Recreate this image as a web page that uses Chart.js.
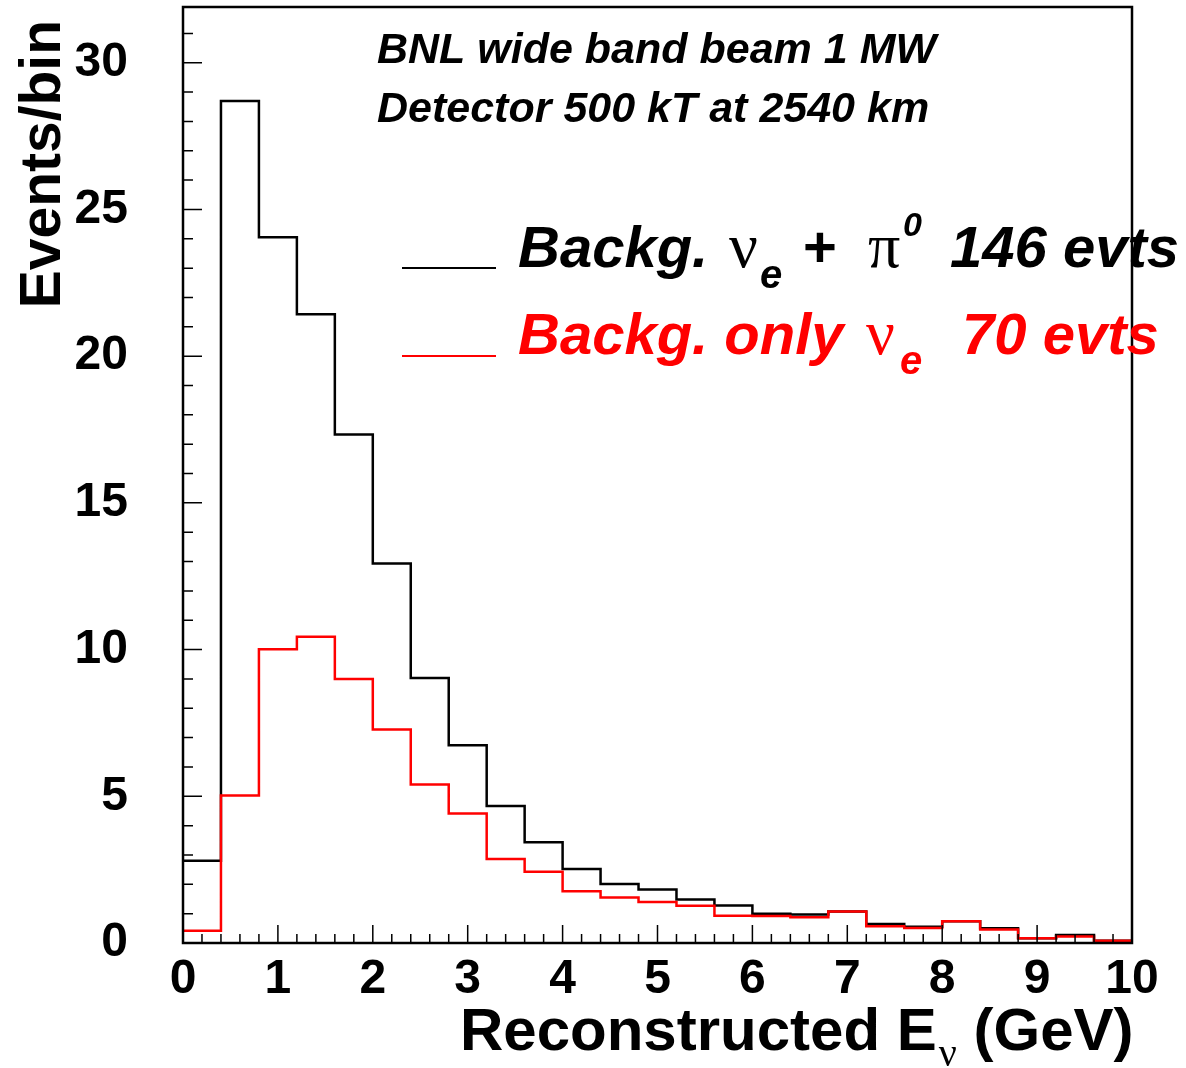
<!DOCTYPE html>
<html>
<head>
<meta charset="utf-8">
<script src="https://cdn.jsdelivr.net/npm/chart.js@4.4.1/dist/chart.umd.min.js"></script>
<style>
  html, body { margin: 0; padding: 0; background: #fff; }
  canvas { display: block; }
</style>
</head>
<body>
<canvas id="histChart" width="1186" height="1068"></canvas>
<script>
// bin edges of the reconstructed-energy histogram (GeV)
const binEdges = [0, 0.4, 0.8, 1.2, 1.6, 2.0, 2.4, 2.8, 3.2, 3.6, 4.0, 4.4, 4.8,
                  5.2, 5.6, 6.0, 6.4, 6.8, 7.2, 7.6, 8.0, 8.4, 8.8, 9.2, 9.6, 10.0];
// events per bin, nu_e + pi0 background (black)
const bkgNuePi0 = [2.80, 28.70, 24.05, 21.43, 17.33, 12.93, 9.03, 6.74, 4.67, 3.43, 2.52, 2.01, 1.82,
                   1.48, 1.28, 1.00, 0.97, 1.07, 0.65, 0.55, 0.74, 0.50, 0.16, 0.27, 0.08];
// events per bin, only nu_e background (red)
const bkgNueOnly = [0.42, 5.03, 10.01, 10.44, 9.00, 7.28, 5.40, 4.41, 2.86, 2.43, 1.76, 1.55, 1.40,
                    1.27, 0.93, 0.92, 0.88, 1.07, 0.57, 0.51, 0.74, 0.46, 0.16, 0.22, 0.08];
const xTickValues = [0, 1, 2, 3, 4, 5, 6, 7, 8, 9, 10];
const yTickValues = [0, 5, 10, 15, 20, 25, 30];

const SANS = '"Liberation Sans", Arial, Helvetica, sans-serif';
const SERIF = '"Liberation Serif", "Times New Roman", serif';

// histogram as step line: each edge carries the value of the bin to its right
function toSteps(vals) {
  return binEdges.map((e, i) => ({ x: e, y: vals[Math.min(i, vals.length - 1)] }));
}

function run(ctx, s, x, y, font, color) {
  ctx.font = font;
  ctx.fillStyle = color;
  ctx.fillText(s, x, y);
  return x + ctx.measureText(s).width;
}

// keep the plot frame where the reference has it
function noPad(s) {
  s.paddingTop = 0; s.paddingBottom = 0; s.paddingLeft = 0; s.paddingRight = 0;
}

// ROOT style frame, inner ticks, titles, text and legend
const rootDecor = {
  id: 'rootDecor',
  afterDatasetsDraw(chart) {
    const { ctx, chartArea: a, scales: { x, y } } = chart;
    ctx.save();
    ctx.strokeStyle = '#000';
    ctx.lineWidth = 1.5;
    ctx.beginPath();
    for (let v = 0; v <= 31; v++) {
      const py = y.getPixelForValue(v);
      ctx.moveTo(a.left, py);
      ctx.lineTo(a.left + (v % 5 === 0 ? 19 : 10), py);
    }
    for (let i = 0; i <= 50; i++) {
      const px = x.getPixelForValue(i * 0.2);
      ctx.moveTo(px, a.bottom);
      ctx.lineTo(px, a.bottom - (i % 5 === 0 ? 18 : 9));
    }
    ctx.stroke();
    ctx.lineWidth = 2.5;
    ctx.strokeRect(a.left, a.top, a.right - a.left, a.bottom - a.top);

    ctx.textBaseline = 'alphabetic';
    ctx.textAlign = 'left';

    // x title
    let cx = run(ctx, 'Reconstructed E', 460, 1050, 'bold 60px ' + SANS, '#000');
    cx = run(ctx, '\u03BD', cx + 2, 1066, '40px ' + SERIF, '#000');
    run(ctx, ' (GeV)', cx, 1050, 'bold 60px ' + SANS, '#000');

    // y title
    ctx.save();
    ctx.translate(60, 20);
    ctx.rotate(-Math.PI / 2);
    ctx.textAlign = 'right';
    run(ctx, 'Events/bin', 0, 0, 'bold 57px ' + SANS, '#000');
    ctx.restore();

    // beam / detector text
    run(ctx, 'BNL wide band beam 1 MW', 377, 63, 'italic bold 43px ' + SANS, '#000');
    run(ctx, 'Detector 500 kT at 2540 km', 377, 122, 'italic bold 43px ' + SANS, '#000');

    // legend
    ctx.lineWidth = 2;
    ctx.strokeStyle = '#000';
    ctx.beginPath(); ctx.moveTo(402, 268); ctx.lineTo(496, 268); ctx.stroke();
    ctx.strokeStyle = '#ff0000';
    ctx.beginPath(); ctx.moveTo(402, 356); ctx.lineTo(496, 356); ctx.stroke();

    const big = 'italic bold 58px ' + SANS;
    run(ctx, 'Backg.', 518, 267, big, '#000');
    run(ctx, '\u03BD', 729, 267, '64px ' + SERIF, '#000');
    run(ctx, 'e', 760, 288, 'italic bold 40px ' + SANS, '#000');
    run(ctx, '+', 803, 267, 'bold 58px ' + SANS, '#000');
    run(ctx, '\u03C0', 868, 267, '64px ' + SERIF, '#000');
    run(ctx, '0', 903, 236, 'italic bold 34px ' + SANS, '#000');
    run(ctx, '146 evts', 950, 267, big, '#000');

    run(ctx, 'Backg. only', 518, 354, big, '#ff0000');
    run(ctx, '\u03BD', 866, 354, '64px ' + SERIF, '#ff0000');
    run(ctx, 'e', 900, 374, 'italic bold 40px ' + SANS, '#ff0000');
    run(ctx, '70 evts', 962, 354, big, '#ff0000');
    ctx.restore();
  }
};

const ctx = document.getElementById('histChart').getContext('2d');
const histChart = new Chart(ctx, {
  type: 'line',
  data: {
    datasets: [
      { label: 'Backg. only nu_e 70 evts', data: toSteps(bkgNueOnly), borderColor: '#ff0000', borderWidth: 2.5, stepped: true, pointRadius: 0, fill: false, order: 0 },
      { label: 'Backg. nu_e + pi0 146 evts', data: toSteps(bkgNuePi0), borderColor: '#000000', borderWidth: 2.5, stepped: true, pointRadius: 0, fill: false, order: 1 }
    ]
  },
  options: {
    responsive: false,
    animation: false,
    devicePixelRatio: 1,
    layout: { padding: { left: 0, right: 54, top: 7, bottom: 0 } },
    plugins: { legend: { display: false }, tooltip: { enabled: false } },
    scales: {
      x: {
        type: 'linear', min: 0, max: 10,
        afterBuildTicks: s => { s.ticks = xTickValues.map(v => ({ value: v })); },
        afterFit: s => { s.height = 125; noPad(s); },
        grid: { display: false, drawTicks: false },
        border: { display: false },
        ticks: { color: '#000', padding: 8, maxRotation: 0, autoSkip: false, font: { family: SANS, size: 48, weight: 'bold' } }
      },
      y: {
        type: 'linear', min: 0, max: 31.9,
        afterBuildTicks: s => { s.ticks = yTickValues.map(v => ({ value: v })); },
        afterFit: s => { s.width = 183; noPad(s); },
        grid: { display: false, drawTicks: false },
        border: { display: false },
        ticks: { color: '#000', padding: 55, font: { family: SANS, size: 48, weight: 'bold' } }
      }
    }
  },
  plugins: [rootDecor]
});
</script>
</body>
</html>
